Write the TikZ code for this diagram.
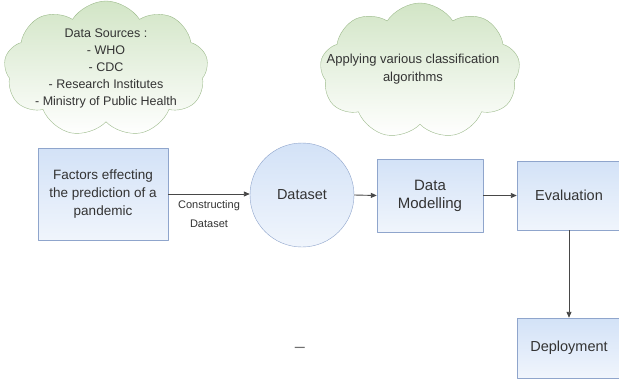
\documentclass[tikz,border=0pt]{standalone}
\usepackage{fontspec}
\setmainfont{Liberation Sans}
\usetikzlibrary{shapes.symbols,arrows.meta}
\definecolor{boxline}{HTML}{8FA5CC}
\definecolor{boxtop}{HTML}{D3E2F7}
\definecolor{boxbot}{HTML}{F0F5FC}
\definecolor{cloudline}{HTML}{9DBB8C}
\definecolor{cloudtop}{HTML}{D2E5C6}
\definecolor{ink}{HTML}{333333}
\begin{document}
\begin{tikzpicture}[x=1pt,y=-1pt,line join=round,>={Triangle[length=6pt,width=5pt]},text=ink,
    box/.style={draw=boxline,top color=boxtop,bottom color=boxbot,align=center,inner sep=0pt,font=\fontsize{14.5}{17}\selectfont},
    puff/.style={cloud,cloud puffs=9,cloud puff arc=115,draw=cloudline,top color=cloudtop,bottom color=white,inner sep=0pt},
    note/.style={align=center,inner sep=0pt,font=\fontsize{12.5}{17}\selectfont},
    link/.style={->,draw=ink!90,line width=0.9pt}]
    \clip (0,0) rectangle (619,378);
    \fill[white] (0,0) rectangle (619,378);
    \node[puff,minimum width=204pt,minimum height=136pt] (src) at (106,69) {};
    \node[note] (srctext) at (106,68) {Data Sources :\\- WHO\\- CDC\\- Research Institutes\\- Ministry of Public Health};
    \node[puff,minimum width=200pt,minimum height=136pt] (algo) at (420,71) {};
    \node[note,font=\fontsize{13}{18}\selectfont] (algotext) at (413,69) {Applying various classification\\algorithms};
    \node[box,minimum width=130pt,minimum height=92pt,font=\fontsize{13.5}{18}\selectfont] (fac) at (103,194) {Factors effecting\\the prediction of a\\pandemic};
    \node[box,circle,minimum size=104pt] (ds) at (302,195) {Dataset};
    \node[box,minimum width=106pt,minimum height=73pt,font=\fontsize{15}{18}\selectfont] (dm) at (430,195.5) {Data\\Modelling};
    \node[box,minimum width=104pt,minimum height=69pt] (ev) at (569,195.5) {Evaluation};
    \node[box,minimum width=104pt,minimum height=60pt] (dep) at (569,348) {Deployment};
    \node[text=ink!70,font=\fontsize{18}{18}\selectfont] (gap) at (300,350) {–};
    \draw[link] (fac.east) -- node[midway,below=3pt,align=center,font=\fontsize{11}{19}\selectfont]{Constructing\\Dataset} (fac.east-|ds.west);
    \draw[link] (ds.east) -- (dm.west);
    \draw[link] (dm.east) -- (ev.west);
    \draw[link] (ev.south) -- (dep.north);
\end{tikzpicture}
\end{document}
